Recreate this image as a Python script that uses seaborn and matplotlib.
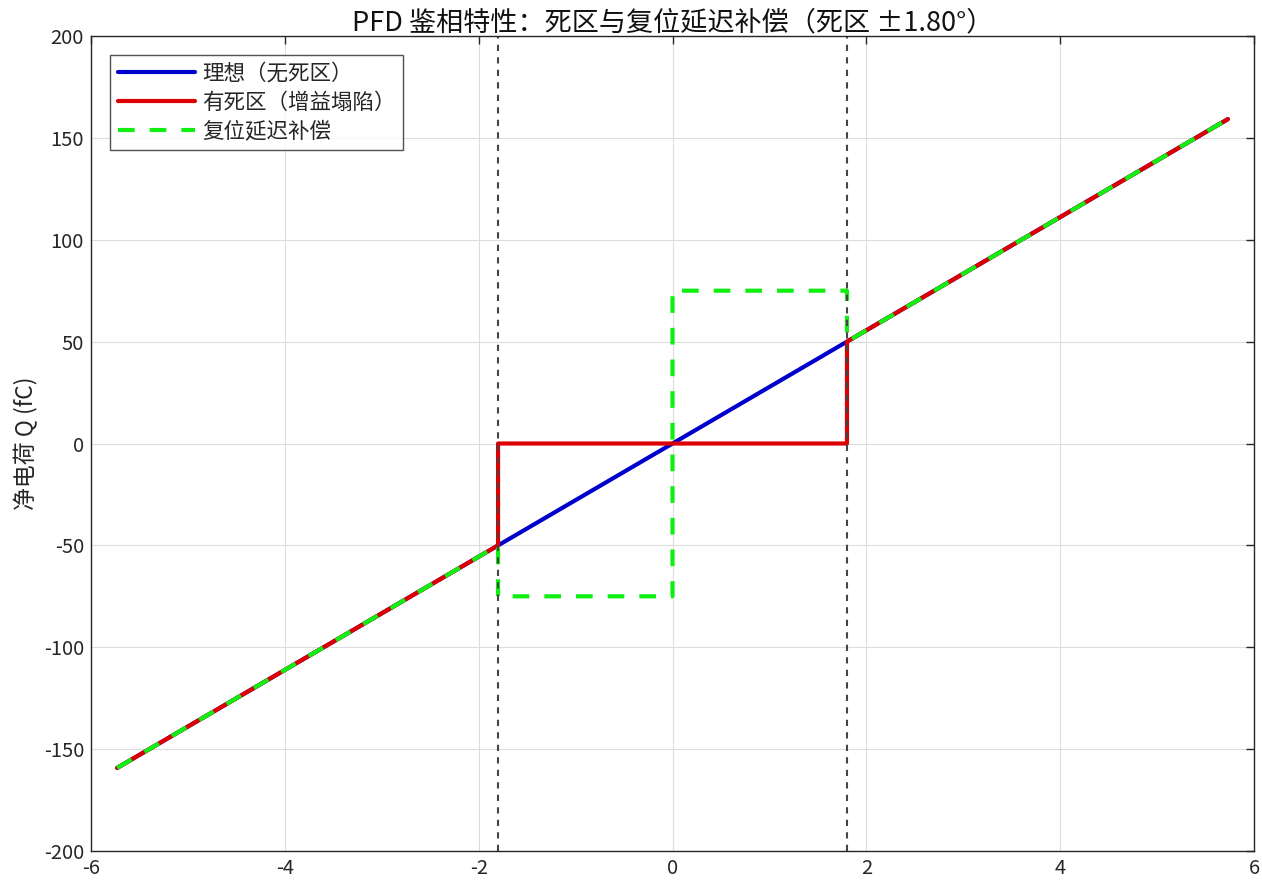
import numpy as np
import pandas as pd
import matplotlib
matplotlib.use("Agg")
import matplotlib.pyplot as plt
import seaborn as sns

# dead zone half width (deg) and edge charge (fC)
dead_zone = 1.8

phase_ideal = [-5.73, 5.73]
q_ideal = [-159.2, 159.2]

phase_dz = [-5.73, -1.8, -1.8, 1.8, 1.8, 5.73]
q_dz = [-159.2, -50.0, 0.0, 0.0, 50.0, 159.2]

phase_comp = [-5.73, -1.8, -1.8, 0.0, 0.0, 1.8, 1.8, 5.73]
q_comp = [-159.2, -50.0, -75.0, -75.0, 75.0, 75.0, 50.0, 159.2]

labels = ["理想（无死区）", "有死区（增益塌陷）", "复位延迟补偿"]
xticks = [-6, -4, -2, 0, 2, 4, 6]
yticks = [-200, -150, -100, -50, 0, 50, 100, 150, 200]

sns.set_theme(style="white")
plt.rcParams['font.family'] = ['Noto Sans CJK SC', 'DejaVu Sans']
plt.rcParams['axes.unicode_minus'] = False

fig = plt.figure(figsize=(12.62, 8.85), dpi=100)
ax = fig.add_axes([0.0721, 0.0384, 0.9216, 0.9209])

df_ideal = pd.DataFrame({"phase": phase_ideal, "q": q_ideal})
df_dz = pd.DataFrame({"phase": phase_dz, "q": q_dz})
df_comp = pd.DataFrame({"phase": phase_comp, "q": q_comp})

sns.lineplot(data=df_ideal, x="phase", y="q", sort=False, estimator=None,
             color="#0000CC", linewidth=3, label=labels[0], ax=ax)
sns.lineplot(data=df_dz, x="phase", y="q", sort=False, estimator=None,
             color="#DD0000", linewidth=3, label=labels[1], ax=ax)
sns.lineplot(data=df_comp, x="phase", y="q", sort=False, estimator=None,
             color="#11EE11", linewidth=3, label=labels[2], ax=ax)
ax.lines[-1].set_dashes([4.0, 3.6])

for xv in [-dead_zone, dead_zone]:
    ax.axvline(xv, color="#444444", linestyle=(0, (3, 3)), linewidth=1.5)

ax.set_xlim(-6, 6)
ax.set_ylim(-200, 200)
ax.set_xticks(xticks)
ax.set_yticks(yticks)
ax.set_xticklabels([str(t) for t in xticks], fontsize=14.5)
ax.set_yticklabels([str(t) for t in yticks], fontsize=14.5)
ax.tick_params(direction="in", length=6, width=1, top=True, right=True,
               colors="#262626", pad=5)
ax.grid(True, color="#DDDDDD", linewidth=0.8)
ax.set_axisbelow(True)
for s in ax.spines.values():
    s.set_color("#262626")
    s.set_linewidth(1)

ax.set_xlabel("")
ax.set_ylabel("净电荷 Q (fC)", fontsize=16.5, color="#262626")
ax.set_title("PFD 鉴相特性：死区与复位延迟补偿（死区 ±1.80°）", fontsize=19.5,
             color="#111111", pad=4)

leg = ax.legend(loc="upper left", fontsize=15.5, frameon=True, fancybox=False,
                edgecolor="#262626", handlelength=3.6, borderpad=0.35,
                labelspacing=0.32, handletextpad=0.3, borderaxespad=0.9)
leg.get_frame().set_linewidth(1)

fig.savefig("out.png", dpi=100)
